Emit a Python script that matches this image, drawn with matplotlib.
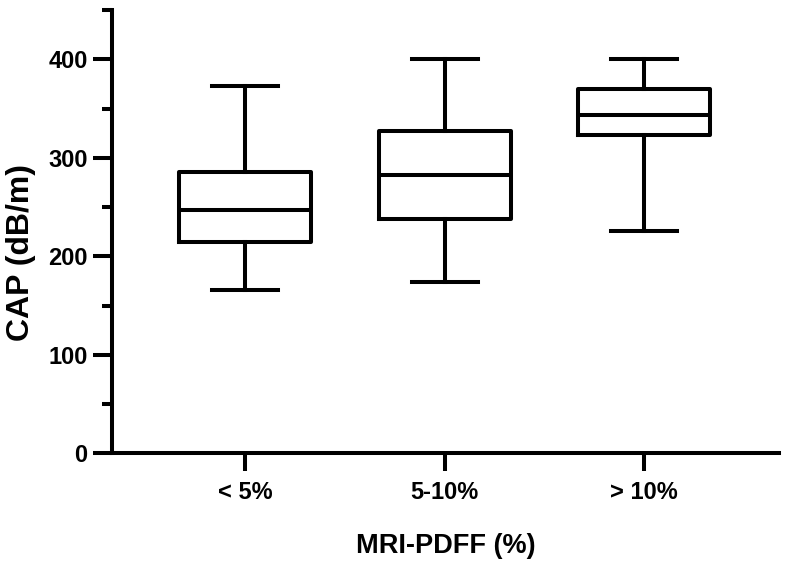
import matplotlib
matplotlib.use("Agg")
import matplotlib.pyplot as plt
from matplotlib.ticker import MultipleLocator

categories = ["< 5%", "5-10%", "> 10%"]
whislo = [166, 173.5, 226]
q1 = [214, 238, 323.5]
med = [246.5, 282, 343.7]
q3 = [286, 327, 370]
whishi = [373, 400, 400]

plt.rcParams['font.family'] = ['Liberation Sans', 'DejaVu Sans']
plt.rcParams['font.weight'] = 'bold'

fig = plt.figure(figsize=(7.88, 5.70), dpi=100)
ax = fig.add_axes([112/788, 1-453.3/570, (779-112)/788, (453.3-10)/570])

stats = []
for i, c in enumerate(categories):
    stats.append(dict(label=c, whislo=whislo[i], q1=q1[i], med=med[i], q3=q3[i], whishi=whishi[i], fliers=[]))

lw = 2.9
ax.bxp(stats, positions=[1, 2, 3], widths=0.66, capwidths=0.33, showfliers=False,
       boxprops=dict(color='black', linewidth=lw),
       medianprops=dict(color='black', linewidth=lw),
       whiskerprops=dict(color='black', linewidth=lw),
       capprops=dict(color='black', linewidth=lw))

ax.set_xlim(0.333, 3.675)
ax.set_ylim(0, 450)
ax.yaxis.set_major_locator(MultipleLocator(100))
ax.yaxis.set_minor_locator(MultipleLocator(50))
ax.set_yticks([0, 100, 200, 300, 400])
ax.set_xticks([1, 2, 3])
ax.set_xticklabels(categories)

for s in ['top', 'right']:
    ax.spines[s].set_visible(False)
for s in ['left', 'bottom']:
    ax.spines[s].set_linewidth(lw)
    ax.spines[s].set_capstyle('projecting')

ax.tick_params(axis='y', which='major', length=13.5, width=lw, labelsize=17, pad=4)
ax.tick_params(axis='y', which='minor', length=7, width=lw)
ax.tick_params(axis='x', which='major', length=13, width=lw, labelsize=17, pad=7)
for lab in ax.get_xticklabels() + ax.get_yticklabels():
    lab.set_fontweight('bold')

ax.set_ylabel("CAP (dB/m)", fontsize=23, fontweight='bold')
ax.yaxis.set_label_coords((36-112)/667, (453.3-252.5)/443.3)
ax.set_xlabel("MRI-PDFF (%)", fontsize=19.5, fontweight='bold', labelpad=20.5)

fig.savefig("out.png", dpi=100)
